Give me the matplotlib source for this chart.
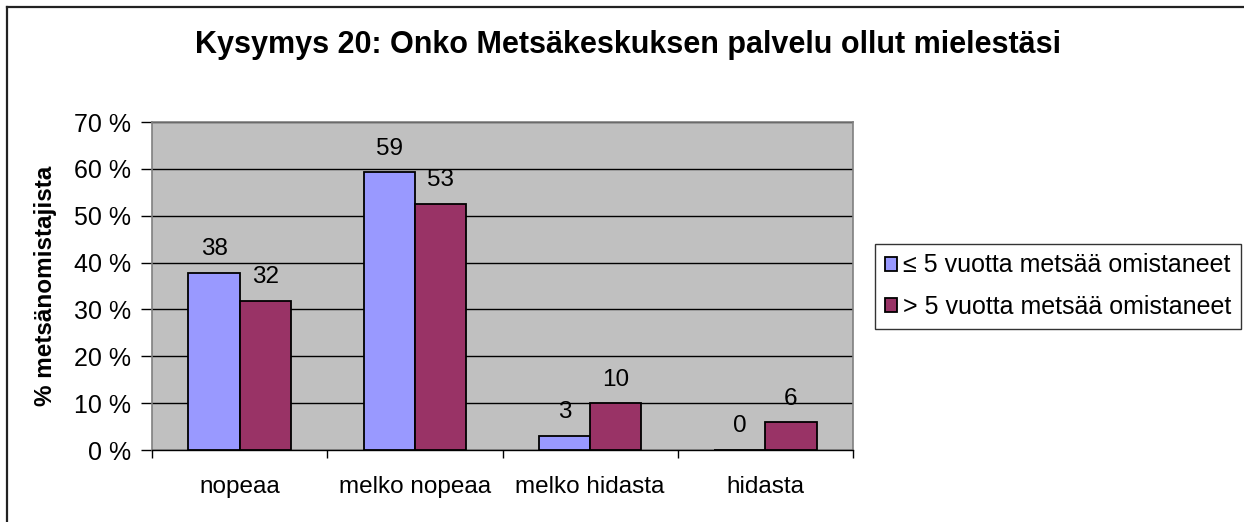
import matplotlib
matplotlib.use("Agg")
import matplotlib.pyplot as plt
import numpy as np
from matplotlib.lines import Line2D

categories = ["nopeaa", "melko nopeaa", "melko hidasta", "hidasta"]
series_names = ["≤ 5 vuotta metsää omistaneet", "> 5 vuotta metsää omistaneet"]
values_short = [37.8, 59.3, 3.0, 0.0]
values_long = [31.9, 52.6, 10.0, 5.9]
labels_short = ["38", "59", "3", "0"]
labels_long = ["32", "53", "10", "6"]
yticks = [0, 10, 20, 30, 40, 50, 60, 70]
ytick_labels = ["0 %", "10 %", "20 %", "30 %", "40 %", "50 %", "60 %", "70 %"]
title = "Kysymys 20: Onko Metsäkeskuksen palvelu ollut mielestäsi"
ylabel = "% metsänomistajista"

plt.rcParams['font.family'] = ['Liberation Sans', 'DejaVu Sans']

W, H = 1244, 522
fig = plt.figure(figsize=(W / 100, H / 100), dpi=100)
ax = fig.add_axes([152 / W, 1 - 450 / H, 701 / W, 328 / H])
ax.set_facecolor("#C0C0C0")

x = np.arange(len(categories)) + 0.5
w = 0.292
b1 = ax.bar(x - w, values_short, width=w, align="edge", color="#9999FF",
            edgecolor="black", linewidth=1.3, zorder=3)
b2 = ax.bar(x, values_long, width=w, align="edge", color="#993366",
            edgecolor="black", linewidth=1.3, zorder=3)

for bars, labs in ((b1, labels_short), (b2, labels_long)):
    for rect, lab in zip(bars, labs):
        ax.annotate(lab, (rect.get_x() + rect.get_width() / 2, rect.get_height()),
                    xytext=(0, 9), textcoords="offset points",
                    ha="center", va="bottom", fontsize=17.5, zorder=4)

ax.set_xlim(0, len(categories))
ax.set_ylim(0, 70)
ax.set_yticks(yticks)
ax.set_yticklabels(ytick_labels, fontsize=18)
ax.yaxis.grid(True, color="black", linewidth=1.0, zorder=1)
ax.set_axisbelow(True)

ax.set_xticks(np.arange(len(categories) + 1))
ax.set_xticklabels([])
ax.set_xticks(x, minor=True)
ax.set_xticklabels(categories, minor=True, fontsize=17.5)
ax.tick_params(axis="x", which="minor", length=0, pad=19)
ax.tick_params(axis="x", which="major", length=6, width=1, direction="out")
ax.tick_params(axis="y", length=8, width=1, direction="out", pad=7)

for s in ("top", "right", "left"):
    ax.spines[s].set_color("#808080")
    ax.spines[s].set_linewidth(1.2)
ax.spines["bottom"].set_color("black")
ax.spines["bottom"].set_linewidth(1.0)

ax.set_ylabel(ylabel, fontsize=17.5, fontweight="bold", labelpad=12)

fig.text(628 / W, 1 - 53 / H, title, ha="center", va="baseline",
         fontsize=22, fontweight="bold")

leg = fig.legend([b1, b2], series_names, loc="upper left",
                 bbox_to_anchor=(875 / W, 1 - 244 / H), fontsize=18,
                 frameon=True, fancybox=False, edgecolor="black",
                 handlelength=0.5, handleheight=0.5, handletextpad=0.25,
                 borderpad=0.38, labelspacing=0.7, borderaxespad=0)
leg.get_frame().set_linewidth(1.0)

# outer chart frame (left and top edges visible)
fig.add_artist(Line2D([6.5 / W, 6.5 / W], [0, 1 - 6.5 / H], transform=fig.transFigure,
                      color="#222222", linewidth=1.6))
fig.add_artist(Line2D([6.5 / W, 1], [1 - 6.5 / H, 1 - 6.5 / H], transform=fig.transFigure,
                      color="#222222", linewidth=1.6))

fig.savefig("out.png", dpi=100, facecolor="white")
